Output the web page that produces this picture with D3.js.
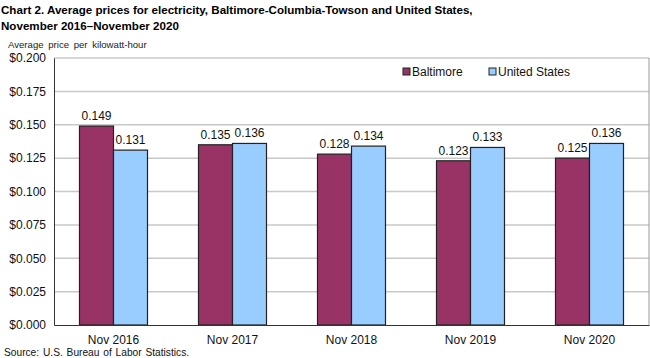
<!DOCTYPE html>
<html><head><meta charset="utf-8">
<script src="https://cdn.jsdelivr.net/npm/d3@7"></script>
<style>body{margin:0;background:#fff}svg{display:block;font-family:Arial,"Liberation Sans",sans-serif}</style>
</head><body><svg id="c" width="650" height="358"></svg>
<script>
const categories = ["Nov 2016","Nov 2017","Nov 2018","Nov 2019","Nov 2020"];
const seriesNames = ["Baltimore","United States"];
const baltimore = [0.149,0.135,0.128,0.123,0.125];
const unitedStates = [0.131,0.136,0.134,0.133,0.136];
const yTicks = [0,0.025,0.05,0.075,0.1,0.125,0.15,0.175,0.2];
const colors = ["#993366","#99ccff"];

const svg = d3.select("#c");
const L=54,R=649,T=58,B=325;
const x = d3.scaleBand().domain(categories).range([L,R]).paddingInner(0).paddingOuter(0);
const x1 = d3.scaleBand().domain(seriesNames).range([0,x.bandwidth()]).paddingInner(0).paddingOuter(0.75);
const y = d3.scaleLinear().domain([0,0.2]).range([B,T]);

svg.append("text").attr("x",1).attr("y",14).attr("font-weight","bold").attr("font-size",11.6)
  .text("Chart 2. Average prices for electricity,  Baltimore-Columbia-Towson and United States,");
svg.append("text").attr("x",1).attr("y",30).attr("font-weight","bold").attr("font-size",11.6)
  .text("November 2016\u2013November 2020");
svg.append("text").attr("x",8).attr("y",48).attr("font-size",9.6).attr("fill","#222")
  .attr("word-spacing",2).text("Average price per kilowatt-hour");

// grid
svg.append("g").selectAll("line").data(yTicks.filter(d=>d>0)).join("line")
  .attr("x1",L).attr("x2",R).attr("y1",d=>y(d)).attr("y2",d=>y(d))
  .attr("stroke","#c8c8c8").attr("stroke-width",1.5);
svg.append("line").attr("x1",R).attr("x2",R).attr("y1",T).attr("y2",B).attr("stroke","#999");

// y axis
const ya = svg.append("g").attr("transform",`translate(${L},0)`)
  .call(d3.axisLeft(y).tickValues(yTicks).tickFormat(d=>"$"+d3.format(".3f")(d)).tickSize(0).tickPadding(8));
ya.select(".domain").attr("stroke","#333");
ya.selectAll("text").attr("font-size",12).attr("fill","#111").attr("font-family","Arial,'Liberation Sans',sans-serif");

// bars
const data = categories.map((c,i)=>({c, vals:[baltimore[i],unitedStates[i]]}));
const g = svg.append("g").selectAll("g").data(data).join("g").attr("transform",d=>`translate(${x(d.c)},0)`);
g.selectAll("rect").data(d=>d.vals.map((v,j)=>({v,s:seriesNames[j],j}))).join("rect")
  .attr("x",d=>x1(d.s)).attr("width",x1.bandwidth()).attr("y",d=>y(d.v)).attr("height",d=>B-y(d.v))
  .attr("fill",d=>colors[d.j]).attr("stroke","#222").attr("stroke-width",1.2);
g.selectAll("text").data(d=>d.vals.map((v,j)=>({v,s:seriesNames[j],j}))).join("text")
  .attr("x",d=>x1(d.s)+x1.bandwidth()/2).attr("y",d=>y(d.v)-6).attr("text-anchor","middle")
  .attr("font-size",12).attr("fill","#111").text(d=>d3.format(".3f")(d.v));

// x axis
const xa = svg.append("g").attr("transform",`translate(0,${B})`)
  .call(d3.axisBottom(x).tickSize(0).tickPadding(10));
xa.select(".domain").attr("stroke","#333");
xa.selectAll("text").attr("font-size",12).attr("fill","#111").attr("font-family","Arial,'Liberation Sans',sans-serif");

// legend
const lx=[403,489];
seriesNames.forEach((s,i)=>{
  svg.append("rect").attr("x",lx[i]).attr("y",68).attr("width",7).attr("height",7)
    .attr("fill",colors[i]).attr("stroke","#222").attr("stroke-width",1);
  svg.append("text").attr("x",lx[i]+9).attr("y",76).attr("font-size",12).attr("fill","#111").text(s);
});

svg.append("text").attr("x",4).attr("y",356).attr("font-size",10.2).attr("fill","#111")
  .attr("word-spacing",1).text("Source: U.S. Bureau of Labor Statistics.");
</script></body></html>
